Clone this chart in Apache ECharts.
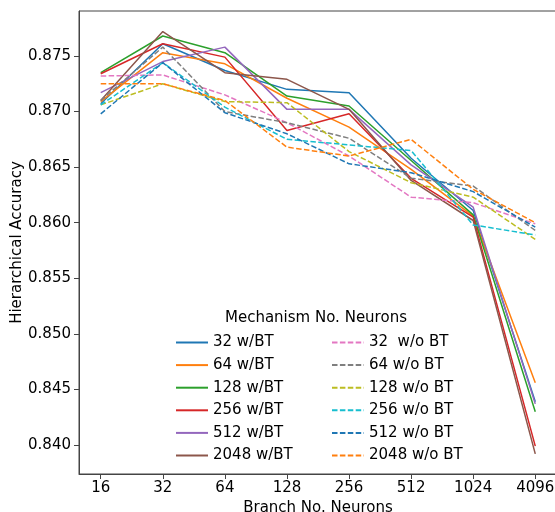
<!DOCTYPE html>
<html>
<head>
<meta charset="utf-8">
<script src="https://cdn.jsdelivr.net/npm/echarts@6/dist/echarts.min.js"></script>
<style>
  html, body { margin: 0; padding: 0; background: #fff; }
  #chart { width: 555px; height: 512px; }
</style>
</head>
<body>
<div id="chart"></div>
<script>
// x categories (branch neurons) and y tick values
const xLabels = ['16', '32', '64', '128', '256', '512', '1024', '4096'];
const yTicks = [0.840, 0.845, 0.850, 0.855, 0.860, 0.865, 0.870, 0.875];

// w/BT series
const acc32BT = [0.8707, 0.8761, 0.8737, 0.8720, 0.8717, 0.8658, 0.8611, 0.8439];
const acc64BT = [0.8709, 0.8753, 0.8743, 0.8712, 0.8686, 0.8648, 0.8606, 0.8456];
const acc128BT = [0.8735, 0.8768, 0.8753, 0.8714, 0.8705, 0.8656, 0.8607, 0.8430];
const acc256BT = [0.8734, 0.8761, 0.8749, 0.8683, 0.8698, 0.8640, 0.8605, 0.8399];
const acc512BT = [0.8717, 0.8745, 0.8758, 0.8702, 0.8702, 0.8652, 0.8614, 0.8437];
const acc2048BT = [0.8710, 0.8772, 0.8735, 0.8729, 0.8702, 0.8638, 0.8602, 0.8392];

// w/o BT series
const acc32noBT = [0.8732, 0.8733, 0.8715, 0.8690, 0.8660, 0.8623, 0.8618, 0.8599];
const acc64noBT = [0.8710, 0.8758, 0.8700, 0.8690, 0.8676, 0.8640, 0.8633, 0.8593];
const acc128noBT = [0.8706, 0.8725, 0.8709, 0.8708, 0.8664, 0.8636, 0.8623, 0.8585];
const acc256noBT = [0.8706, 0.8744, 0.8704, 0.8675, 0.8670, 0.8665, 0.8598, 0.8589];
const acc512noBT = [0.8698, 0.8744, 0.8699, 0.8680, 0.8653, 0.8645, 0.8628, 0.8596];
const acc2048noBT = [0.8725, 0.8725, 0.8710, 0.8668, 0.8660, 0.8675, 0.8630, 0.8600];

const names = ['32 w/BT', '64 w/BT', '128 w/BT', '256 w/BT', '512 w/BT', '2048 w/BT',
  '32  w/o BT', '64 w/o BT', '128 w/o BT', '256 w/o BT', '512 w/o BT', '2048 w/o BT'];
const values = [acc32BT, acc64BT, acc128BT, acc256BT, acc512BT, acc2048BT,
  acc32noBT, acc64noBT, acc128noBT, acc256noBT, acc512noBT, acc2048noBT];
const colors = ['#1f77b4', '#ff7f0e', '#2ca02c', '#d62728', '#9467bd', '#8c564b',
  '#e377c2', '#7f7f7f', '#bcbd22', '#17becf', '#1f77b4', '#ff7f0e'];

const font = 'DejaVu Sans';
const xIdx = xLabels.map((_, i) => i);

const series = values.map((vals, k) => ({
  name: names[k],
  type: 'line',
  symbol: 'none',
  data: vals.map((v, i) => [i, v]),
  lineStyle: {
    color: colors[k],
    width: 1.5,
    type: k < 6 ? 'solid' : [5.5, 2.4]
  },
  itemStyle: { color: colors[k] },
  emphasis: { disabled: true }
}));

const legendBase = {
  orient: 'vertical',
  top: 330,
  itemWidth: 32,
  itemHeight: 14,
  itemGap: 7.6,
  itemStyle: { opacity: 0 },
  textStyle: { fontFamily: font, fontSize: 15, color: '#000' },
  selectedMode: false
};

const chart = echarts.init(document.getElementById('chart'), null, { renderer: 'canvas' });
chart.setOption({
  animation: false,
  color: colors,
  title: {
    text: 'Mechanism No. Neurons',
    left: 225,
    top: 311,
    padding: 0,
    textStyle: { fontFamily: font, fontSize: 15, fontWeight: 'normal', color: '#000' }
  },
  legend: [
    Object.assign({}, legendBase, { left: 170, data: names.slice(0, 6) }),
    Object.assign({}, legendBase, { left: 326, data: names.slice(6) })
  ],
  grid: {
    left: 79, top: 11, right: -2, bottom: 38,
    outerBoundsMode: 'none',
    show: true, borderColor: '#444', borderWidth: 1, backgroundColor: 'transparent'
  },
  xAxis: {
    type: 'value',
    min: -0.35,
    max: 7.35,
    name: 'Branch No. Neurons',
    nameLocation: 'middle',
    nameGap: 27,
    nameMoveOverlap: false,
    nameTextStyle: { fontFamily: font, fontSize: 15, color: '#000' },
    axisLine: { show: true, onZero: false, lineStyle: { color: '#444' } },
    axisTick: { show: true, length: 5, customValues: xIdx, lineStyle: { color: '#444' } },
    axisLabel: {
      customValues: xIdx, margin: 7,
      fontFamily: font, fontSize: 15, color: '#000',
      formatter: v => xLabels[Math.round(v)]
    },
    splitLine: { show: false }
  },
  yAxis: {
    type: 'value',
    min: 0.83739,
    max: 0.87905,
    name: 'Hierarchical Accuracy',
    nameLocation: 'middle',
    nameGap: 54,
    nameMoveOverlap: false,
    nameTextStyle: { fontFamily: font, fontSize: 15, color: '#000' },
    axisLine: { show: true, onZero: false, lineStyle: { color: '#444' } },
    axisTick: { show: true, length: 5, customValues: yTicks, lineStyle: { color: '#444' } },
    axisLabel: {
      customValues: yTicks, margin: 8,
      fontFamily: font, fontSize: 15, color: '#000',
      formatter: v => v.toFixed(3)
    },
    splitLine: { show: false }
  },
  series
});
</script>
</body>
</html>
